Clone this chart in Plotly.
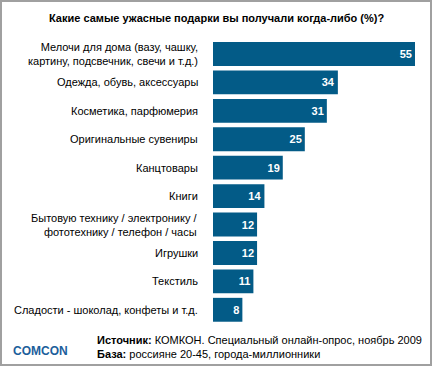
import plotly.graph_objects as go

categories = [
    "Мелочи для дома (вазу, чашку,<br>картину, подсвечник, свечи и т.д.)",
    "Одежда, обувь, аксессуары",
    "Косметика, парфюмерия",
    "Оригинальные сувениры",
    "Канцтовары",
    "Книги",
    "Бытовую технику / электронику /<br>фототехнику / телефон / часы",
    "Игрушки",
    "Текстиль",
    "Сладости - шоколад, конфеты и т.д.",
]
values = [55, 34, 31, 25, 19, 14, 12, 12, 11, 8]

W, H = 433, 366
L, R, T, B = 213, 18, 39, 42
pw, ph = W - L - R, H - T - B

def px(x):
    return (x - L) / pw

def py(y):
    return 1 - (y - T) / ph

FONT = "Liberation Sans, Arial, sans-serif"
BAR = "#035B87"

fig = go.Figure()
fig.add_trace(go.Bar(
    y=categories, x=values, orientation="h",
    marker=dict(color=BAR, line=dict(width=0)),
    text=[str(v) for v in values], textposition="inside",
    insidetextanchor="end",
    textfont=dict(color="white", size=11, family=FONT, weight="bold"),
    cliponaxis=False, hoverinfo="skip",
))

annotations = []
for c in categories:
    annotations.append(dict(
        x=px(200), xref="paper", y=c, yref="y", text=c, showarrow=False,
        xanchor="right", align="right", font=dict(size=11, family=FONT, color="#000"),
    ))
annotations += [
    dict(x=px(216), y=py(18), xref="paper", yref="paper", showarrow=False,
         text="<b>Какие самые ужасные подарки вы получали когда-либо (%)?</b>",
         font=dict(size=11, family=FONT, color="#000"), xanchor="center", yanchor="middle"),
    dict(x=px(95), y=py(340), xref="paper", yref="paper", showarrow=False,
         text="<b>Источник:</b> КОМКОН. Специальный онлайн-опрос, ноябрь 2009",
         font=dict(size=11, family=FONT, color="#000"), xanchor="left", yanchor="middle"),
    dict(x=px(95), y=py(354), xref="paper", yref="paper", showarrow=False,
         text="<b>База:</b> россияне 20-45, города-миллионники",
         font=dict(size=11, family=FONT, color="#000"), xanchor="left", yanchor="middle"),
    dict(x=px(11), y=py(351), xref="paper", yref="paper", showarrow=False,
         text="<b>COMCON</b>",
         font=dict(size=12, family=FONT, color="#1B5E9B"), xanchor="left", yanchor="middle"),
]

shapes = [dict(type="rect", xref="paper", yref="paper",
               x0=px(1), x1=px(431), y0=py(1), y1=py(365),
               line=dict(color="#A0A0A0", width=2), fillcolor="rgba(0,0,0,0)", layer="above")]

fig.update_layout(
    width=W, height=H, margin=dict(l=L, r=R, t=T, b=B, pad=0),
    paper_bgcolor="white", plot_bgcolor="white",
    showlegend=False, bargap=0.16,
    xaxis=dict(range=[0, 55], visible=False, fixedrange=True),
    yaxis=dict(categoryorder="array", categoryarray=categories, autorange="reversed",
               showticklabels=False, showgrid=False, zeroline=False, showline=False,
               ticks="", fixedrange=True),
    annotations=annotations, shapes=shapes,
    font=dict(family=FONT, size=11),
)
fig.write_html("out.html", config={"displayModeBar": False},
               post_script="document.body.style.margin='0';document.body.style.padding='0';")
